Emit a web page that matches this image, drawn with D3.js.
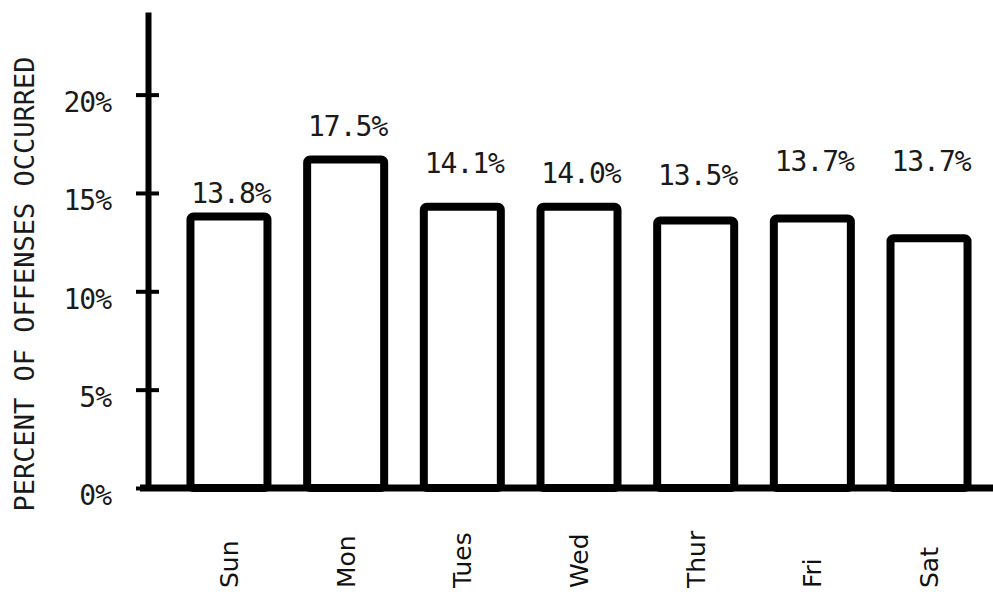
<!DOCTYPE html>
<html>
<head>
<meta charset="utf-8">
<script src="https://cdn.jsdelivr.net/npm/d3@7"></script>
<style>
  body { margin: 0; background: #fff; }
  svg { display: block; }
</style>
</head>
<body>
<svg id="chart"></svg>
<script>
// offenses by day of week - hand drawn bars, typed labels

const days = ["Sun", "Mon", "Tues", "Wed", "Thur", "Fri", "Sat"];
// percentages as typed above the bars
const pctLabels = ["13.8%", "17.5%", "14.1%", "14.0%", "13.5%", "13.7%", "13.7%"];
// bar heights as drawn (the drawing does not follow the labels exactly)
const barLevel = [13.8, 16.7, 14.3, 14.3, 13.6, 13.7, 12.7];
// where each typed label sits, on the same percent scale
const labelLevel = [14.5, 17.9, 16.0, 15.5, 15.4, 16.1, 16.1];
const yTicks = [0, 5, 10, 15, 20];

let width = 993, height = 592;
let axisX = 148, baseY = 488, topY = 12;

const svg = d3.select("#chart").attr("width", width).attr("height", height);

const x = d3.scaleBand()
  .domain(days)
  .range([axisX, 1010])
  .paddingInner(0.34)
  .paddingOuter(0.364);

const y = d3.scaleLinear()
  .domain([0, 24.2])
  .range([baseY, topY]);

const typeFont = "'DejaVu Sans Mono', monospace";

// bars
svg.selectAll(".bar")
  .data(days)
  .enter()
  .append("rect")
  .attr("class", "bar")
  .attr("x", d => x(d))
  .attr("y", (d, i) => y(barLevel[i]))
  .attr("width", x.bandwidth())
  .attr("height", (d, i) => baseY - y(barLevel[i]))
  .attr("rx", 3)
  .style("fill", "white")
  .style("stroke", "black")
  .style("stroke-width", 8);

// value labels
svg.selectAll(".val")
  .data(days)
  .enter()
  .append("text")
  .attr("class", "val")
  .attr("x", d => x(d) + x.bandwidth() / 2 + 2)
  .attr("y", (d, i) => y(labelLevel[i]))
  .attr("text-anchor", "middle")
  .style("font-family", typeFont)
  .style("font-size", "28px")
  .style("letter-spacing", "-1px")
  .style("fill", "#1a1a1a")
  .text((d, i) => pctLabels[i]);

// y axis
let yAxis = svg.append("g")
  .attr("transform", `translate(${axisX},0)`)
  .call(d3.axisLeft(y).tickValues(yTicks).tickFormat(d => d + "%")
    .tickSize(11).tickSizeOuter(0).tickPadding(26));

yAxis.select(".domain").style("stroke", "black").style("stroke-width", 6);
yAxis.selectAll(".tick line")
  .attr("x1", -12).attr("x2", 11)
  .style("stroke", "black").style("stroke-width", 4);
yAxis.selectAll(".tick text")
  .attr("dy", "0.6em")
  .style("font-family", typeFont)
  .style("font-size", "28px")
  .style("letter-spacing", "-1px")
  .style("fill", "#1a1a1a");

// x axis (runs off the right edge)
let xAxis = svg.append("g")
  .attr("transform", `translate(0,${baseY})`)
  .call(d3.axisBottom(x).tickSize(0).tickSizeOuter(0).tickFormat(""));

xAxis.select(".domain").remove();
xAxis.append("line")
  .attr("x1", axisX - 8).attr("x2", width)
  .style("stroke", "black").style("stroke-width", 7);

// day names, rotated
svg.selectAll(".day")
  .data(days)
  .enter()
  .append("text")
  .attr("class", "day")
  .attr("transform", d => `translate(${x(d) + x.bandwidth() / 2 + 9},588) rotate(-90)`)
  .attr("text-anchor", "start")
  .style("font-family", "'DejaVu Sans', sans-serif")
  .style("font-size", "25px")
  .style("fill", "#111")
  .text(d => d);

// y title
svg.append("text")
  .attr("transform", "translate(34,284) rotate(-90)")
  .attr("text-anchor", "middle")
  .style("font-family", typeFont)
  .style("font-size", "27px")
  .style("fill", "#1a1a1a")
  .text("PERCENT OF OFFENSES OCCURRED");
</script>
</body>
</html>
